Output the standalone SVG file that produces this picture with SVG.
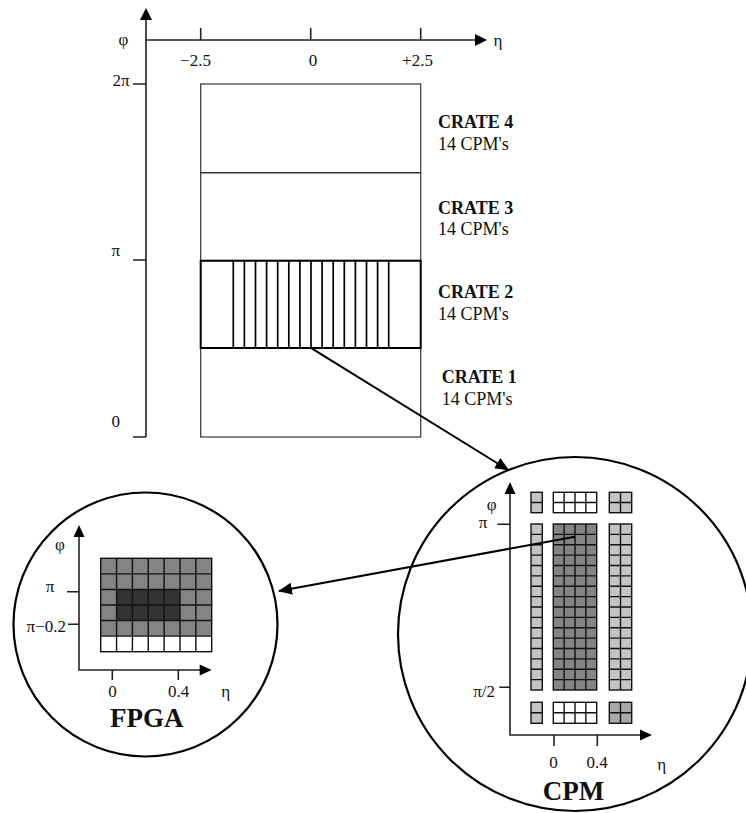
<svg xmlns="http://www.w3.org/2000/svg" width="746" height="813" viewBox="0 0 746 813">
<style>
  text { font-family: "Liberation Serif", "Times New Roman", serif; fill: #111; }
  .lbl { font-size: 17px; }
  .crt { font-size: 18px; }
  .b { font-weight: bold; }
  .big { font-size: 27px; font-weight: bold; }
  .ax { stroke: #222; stroke-width: 1.6; fill: none; }
  .thin { stroke: #333; stroke-width: 1.2; fill: none; }
  .grid { stroke: #111; stroke-width: 1.4; fill: none; }
  .circ { stroke: #000; stroke-width: 2.2; fill: none; }
  .con { stroke: #000; stroke-width: 2; fill: none; }
  .head { fill: #000; }
  .lg { fill: #c4c4c4; }
  .mg { fill: #848484; }
  .dg { fill: #333333; }
  .wh { fill: #ffffff; }
</style>
<defs>
  <marker id="arr" viewBox="0 0 14 12" refX="13" refY="6" markerWidth="14" markerHeight="12" markerUnits="userSpaceOnUse" orient="auto">
    <path d="M0,0 L14,6 L0,12 Z" fill="#000"/>
  </marker>
</defs>
<rect width="746" height="813" fill="#ffffff"/>

<!-- main axes -->
<g id="main-axes">
  <path class="ax" d="M146,18 V437 M146,40 H477"/>
  <path class="head" d="M146,8 L140,20 L152,20 Z"/>
  <path class="head" d="M487,40 L475,34 L475,46 Z"/>
  <path class="ax" d="M200.7,28 V40 M310.7,28 V40 M420.7,28 V40 M133,84 H146 M133,260 H146 M133,437 H146"/>
  <text class="lbl" x="123.5" y="45" text-anchor="middle">φ</text>
  <text class="lbl" x="498" y="46" text-anchor="middle">η</text>
  <text class="lbl" x="195.5" y="66" text-anchor="middle">−2.5</text>
  <text class="lbl" x="313" y="66" text-anchor="middle">0</text>
  <text class="lbl" x="417.5" y="66" text-anchor="middle">+2.5</text>
  <text class="lbl" x="129.5" y="86" text-anchor="end">2π</text>
  <text class="lbl" x="120" y="256" text-anchor="end">π</text>
  <text class="lbl" x="120" y="427" text-anchor="end">0</text>
</g>

<!-- crates -->
<g id="crate4">
  <rect class="thin" x="200.7" y="84" width="220" height="88.7"/>
  <text class="crt b" x="438" y="128">CRATE 4</text>
  <text class="crt" x="438" y="150">14 CPM's</text>
</g>
<g id="crate3">
  <rect class="thin" x="200.7" y="172.7" width="220" height="88"/>
  <text class="crt b" x="438" y="214">CRATE 3</text>
  <text class="crt" x="438" y="235">14 CPM's</text>
</g>
<g id="crate1">
  <rect class="thin" x="200.7" y="348" width="220" height="89"/>
  <text class="crt b" x="441.7" y="383">CRATE 1</text>
  <text class="crt" x="441.7" y="405">14 CPM's</text>
</g>
<g id="crate2">
  <rect x="200.7" y="260.7" width="220" height="87.3" fill="none" stroke="#000" stroke-width="2"/>
  <path stroke="#000" stroke-width="1.7" fill="none" d="M233.3,261 V348 M244.4,261 V348 M255.5,261 V348 M266.6,261 V348 M277.7,261 V348 M288.8,261 V348 M299.9,261 V348 M311,261 V348 M322.1,261 V348 M333.2,261 V348 M344.3,261 V348 M355.4,261 V348 M366.5,261 V348 M377.6,261 V348 M388.7,261 V348"/>
  <text class="crt b" x="438" y="298">CRATE 2</text>
  <text class="crt" x="438" y="320">14 CPM's</text>
</g>

<!-- CPM detail -->
<g id="cpm">
  <circle class="circ" cx="575" cy="634" r="177"/>
  <path class="ax" d="M510,492 V735 H642"/>
  <path class="head" d="M510,482 L504.5,494 L515.5,494 Z"/>
  <path class="head" d="M652,735 L640,729.5 L640,740.5 Z"/>
  <path class="ax" d="M497.3,524.3 H510 M499.3,687.3 H510 M554,735 V746 M597.3,735 V746"/>
  <text class="lbl" x="491.7" y="510" text-anchor="middle">φ</text>
  <text class="lbl" x="483" y="528" text-anchor="middle">π</text>
  <text class="lbl" x="495" y="697" text-anchor="end">π/2</text>
  <text class="lbl" x="553.5" y="768" text-anchor="middle">0</text>
  <text class="lbl" x="597" y="768" text-anchor="middle">0.4</text>
  <text class="lbl" x="661.7" y="770" text-anchor="middle">η</text>
  <text class="big" x="573.5" y="800" text-anchor="middle">CPM</text>
  <!-- top blocks -->
  <rect class="lg" x="531" y="492.3" width="11.3" height="20.4"/>
  <rect class="wh" x="553.3" y="492.3" width="43.4" height="20.4"/>
  <rect class="lg" x="609.3" y="492.3" width="22.4" height="20.4"/>
  <!-- bottom blocks -->
  <rect class="lg" x="531" y="702.3" width="11.3" height="21"/>
  <rect class="wh" x="553.3" y="702.3" width="43.4" height="21"/>
  <rect fill="#a9a9a9" x="609.3" y="702.3" width="22.4" height="21"/>
  <!-- main strips -->
  <rect class="lg" x="531" y="524" width="11.3" height="166"/>
  <rect class="mg" x="553.3" y="524" width="43.4" height="166"/>
  <rect class="lg" x="609.3" y="524" width="22.4" height="166"/>
  <g class="grid">
    <rect x="531" y="492.3" width="11.3" height="20.4"/>
    <rect x="553.3" y="492.3" width="43.4" height="20.4"/>
    <rect x="609.3" y="492.3" width="22.4" height="20.4"/>
    <path d="M531,502.5 H542.3 M553.3,502.5 H596.7 M609.3,502.5 H631.7 M564.15,492.3 V512.7 M575,492.3 V512.7 M585.85,492.3 V512.7 M620.5,492.3 V512.7"/>
    <rect x="531" y="702.3" width="11.3" height="21"/>
    <rect x="553.3" y="702.3" width="43.4" height="21"/>
    <rect x="609.3" y="702.3" width="22.4" height="21"/>
    <path d="M531,712.8 H542.3 M553.3,712.8 H596.7 M609.3,712.8 H631.7 M564.15,702.3 V723.3 M575,702.3 V723.3 M585.85,702.3 V723.3 M620.5,702.3 V723.3"/>
    <rect x="531" y="524" width="11.3" height="166"/>
    <rect x="553.3" y="524" width="43.4" height="166"/>
    <rect x="609.3" y="524" width="22.4" height="166"/>
    <path d="M564.15,524 V690 M575,524 V690 M585.85,524 V690 M620.5,524 V690
      M531,534.375 H542.3 M553.3,534.375 H596.7 M609.3,534.375 H631.7
      M531,544.75 H542.3 M553.3,544.75 H596.7 M609.3,544.75 H631.7
      M531,555.125 H542.3 M553.3,555.125 H596.7 M609.3,555.125 H631.7
      M531,565.5 H542.3 M553.3,565.5 H596.7 M609.3,565.5 H631.7
      M531,575.875 H542.3 M553.3,575.875 H596.7 M609.3,575.875 H631.7
      M531,586.25 H542.3 M553.3,586.25 H596.7 M609.3,586.25 H631.7
      M531,596.625 H542.3 M553.3,596.625 H596.7 M609.3,596.625 H631.7
      M531,607 H542.3 M553.3,607 H596.7 M609.3,607 H631.7
      M531,617.375 H542.3 M553.3,617.375 H596.7 M609.3,617.375 H631.7
      M531,627.75 H542.3 M553.3,627.75 H596.7 M609.3,627.75 H631.7
      M531,638.125 H542.3 M553.3,638.125 H596.7 M609.3,638.125 H631.7
      M531,648.5 H542.3 M553.3,648.5 H596.7 M609.3,648.5 H631.7
      M531,658.875 H542.3 M553.3,658.875 H596.7 M609.3,658.875 H631.7
      M531,669.25 H542.3 M553.3,669.25 H596.7 M609.3,669.25 H631.7
      M531,679.625 H542.3 M553.3,679.625 H596.7 M609.3,679.625 H631.7"/>
  </g>
</g>

<!-- FPGA detail -->
<g id="fpga">
  <circle class="circ" cx="145.5" cy="624.5" r="132"/>
  <path class="ax" d="M79,535 V670 H201"/>
  <path class="head" d="M79,525 L73.5,537 L84.5,537 Z"/>
  <path class="head" d="M211.7,670 L199.7,664.5 L199.7,675.5 Z"/>
  <path class="ax" d="M67,591.7 H79 M68,624.3 H79 M112.3,670 V680 M178.3,670 V680"/>
  <text class="lbl" x="60" y="550" text-anchor="middle">φ</text>
  <text class="lbl" x="50" y="592" text-anchor="middle">π</text>
  <text class="lbl" x="66" y="632" text-anchor="end">π−0.2</text>
  <text class="lbl" x="112.5" y="697" text-anchor="middle">0</text>
  <text class="lbl" x="178.7" y="697" text-anchor="middle">0.4</text>
  <text class="lbl" x="225.7" y="697" text-anchor="middle">η</text>
  <text class="big" x="146.7" y="727" text-anchor="middle">FPGA</text>
  <rect class="mg" x="100.7" y="558.3" width="111" height="77.83"/>
  <rect class="wh" x="100.7" y="636.13" width="111" height="15.57"/>
  <rect class="dg" x="116.56" y="589.43" width="63.43" height="31.14"/>
  <g class="grid">
    <rect x="100.7" y="558.3" width="111" height="93.4"/>
    <path d="M116.56,558.3 V651.7 M132.41,558.3 V651.7 M148.27,558.3 V651.7 M164.13,558.3 V651.7 M179.99,558.3 V651.7 M195.84,558.3 V651.7
      M100.7,573.87 H211.7 M100.7,589.43 H211.7 M100.7,605 H211.7 M100.7,620.57 H211.7 M100.7,636.13 H211.7"/>
  </g>
</g>

<!-- connectors -->
<g id="connectors">
  <line class="con" x1="311.7" y1="348.3" x2="508.3" y2="470" marker-end="url(#arr)"/>
  <line class="con" x1="575" y1="536.7" x2="279" y2="591" marker-end="url(#arr)"/>
</g>
</svg>
